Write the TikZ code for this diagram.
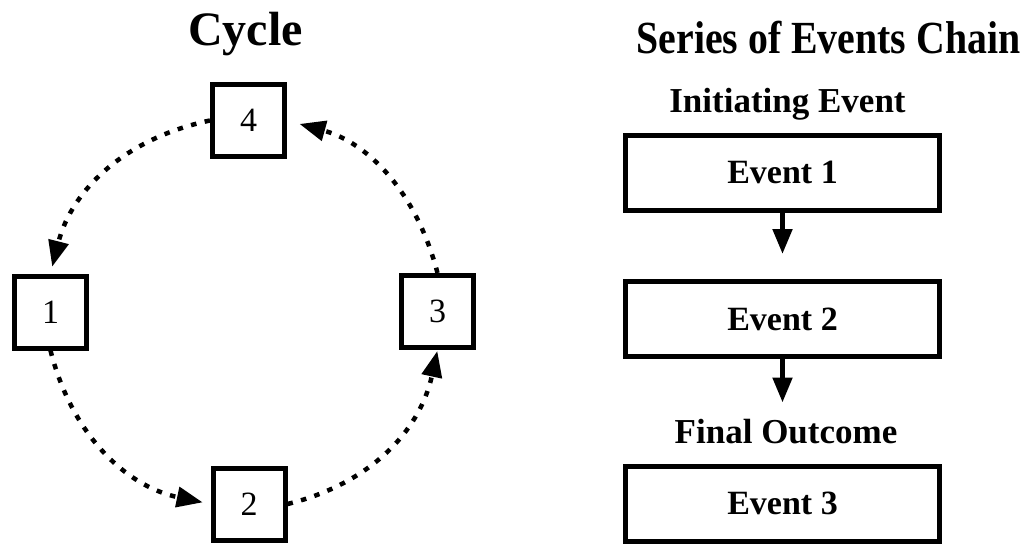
\documentclass[tikz,border=0pt]{standalone}
\usepackage{fontspec}
\setmainfont{Liberation Serif}
\usepackage{graphicx}
\usetikzlibrary{arrows.meta}
\begin{document}
\begin{tikzpicture}[x=1pt,y=-1pt,
  numbox/.style={draw,line width=5pt,minimum width=72pt,minimum height=72pt,inner sep=0pt,
    font=\fontsize{34}{36}\selectfont},
  eventbox/.style={draw,line width=5pt,minimum width=314pt,minimum height=75pt,inner sep=0pt,
    font=\bfseries\fontsize{34}{36}\selectfont},
  cyclearrow/.style={line width=4.5pt,dash pattern=on 5.5pt off 8.5pt,
    -{Triangle[length=26pt,width=20pt]}},
  chainarrow/.style={line width=5pt,-{Triangle[length=25pt,width=19pt]}},
  title/.style={font=\bfseries\fontsize{48}{50}\selectfont,anchor=base,inner sep=0pt},
  sublabel/.style={font=\bfseries\fontsize{35}{37}\selectfont,anchor=base,inner sep=0pt}]
\useasboundingbox (0,0) rectangle (1025,546);

% titles
\node[title] (cyc) at (245.5,45) {Cycle};
\node[title,font=\bfseries\fontsize{46}{48}\selectfont] (sec) at (828.5,53)
  {\scalebox{0.865}[1]{Series of Events Chain}};

% cycle boxes
\node[numbox] (b4) at (248.5,120.5) {4};
\node[numbox] (b1) at (50.5,312) {1};
\node[numbox] (b3) at (437.5,311.5) {3};
\node[numbox] (b2) at (249,504) {2};

% cycle connectors
\draw[cyclearrow,shorten >=7pt] (b4.west) to[bend right=32] (b1.north);
\draw[cyclearrow,shorten >=8pt] (b1.south) to[bend right=32] (b2.west);
\draw[cyclearrow,shorten >=1pt] (b2.east) to[bend right=32] (b3.south);
\draw[cyclearrow,shorten >=13pt] (b3.north) to[bend right=30] (b4.east);

% chain
\node[sublabel] (ini) at (787.5,112) {Initiating Event};
\node[eventbox] (e1) at (782.5,172.5) {Event 1};
\node[eventbox] (e2) at (782.5,319) {Event 2};
\node[sublabel] (fo) at (786,443) {Final Outcome};
\node[eventbox] (e3) at (782.5,503.5) {Event 3};

\draw[chainarrow,shorten >=25pt] (e1.south) -- (e1.south |- e2.north);
\draw[chainarrow,shorten >=16pt] (e2.south) -- (e2.south |- fo.north);
\end{tikzpicture}
\end{document}
